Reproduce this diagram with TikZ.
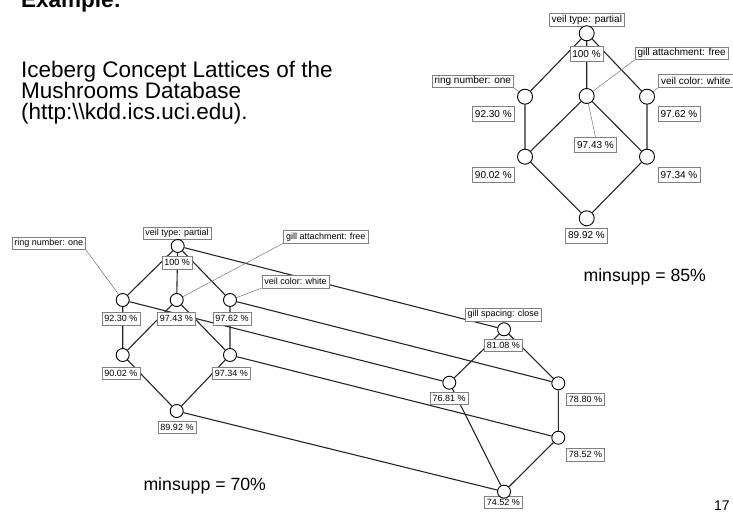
\documentclass[tikz,border=0pt]{standalone}
\usepackage{fontspec}
\setmainfont{Liberation Sans}
\pgfdeclarelayer{edges}
\pgfdeclarelayer{tags}
\pgfsetlayers{edges,tags,main}
\begin{document}
\begin{tikzpicture}[x=1pt,y=-1pt,
  concept/.style={circle,draw=black,fill=white,line width=0.9pt,minimum size=13pt,inner sep=0pt},
  conceptbig/.style={concept,minimum size=15pt},
  tag/.style={draw=black!50,fill=white,line width=0.5pt,inner xsep=2.5pt,inner ysep=0pt,
    minimum height=12.5pt,font=\fontsize{9}{10}\selectfont},
  tagbig/.style={tag,font=\fontsize{10}{11}\selectfont},
  pctbig/.style={tagbig,minimum height=15pt},
  edge/.style={line width=1.1pt,black!85},
  lead/.style={line width=0.5pt,black!55},
  slide/.style={font=\fontsize{22.5}{21.5}\selectfont,inner sep=0pt,anchor=base west},
  caption/.style={font=\fontsize{17.7}{20}\selectfont,inner sep=0pt,anchor=base west},
]
\useasboundingbox (0,0) rectangle (733,516);

% slide text
\node[slide,font=\fontsize{22.5}{21.5}\selectfont\bfseries] (title) at (21,8) {Example:};
\node[slide] (line1) at (21,77.3) {Iceberg Concept Lattices of the};
\node[slide] (line2) at (21,98.5) {Mushrooms Database};
\node[slide] (line3) at (21,119.5) {(http:\textbackslash\textbackslash kdd.ics.uci.edu).};
\node[caption] (ms85) at (583.3,281.7) {minsupp = 85\%};
\node[caption] (ms70) at (143.3,490) {minsupp = 70\%};
\node[font=\fontsize{14}{16}\selectfont,inner sep=0pt,anchor=base west] (pageno) at (714,510) {17};

% ---- lattice for minsupp = 85% ----
\node[conceptbig] (t0) at (586.7,33.3) {};
\node[conceptbig] (t1) at (525,96.7) {};
\node[conceptbig] (t2) at (586.7,96) {};
\node[conceptbig] (t3) at (647,96.7) {};
\node[conceptbig] (t4) at (525,156.7) {};
\node[conceptbig] (t5) at (647,156.7) {};
\node[conceptbig] (t6) at (586.7,218.3) {};

\begin{pgfonlayer}{tags}
\node[tagbig] (t0n) at (586.8,20) {veil type: partial};
\node[pctbig] (t0p) at (586.5,53.7) {100 \%};
\node[tagbig] (t1n) at (472.8,81.2) {ring number: one};
\node[pctbig] (t1p) at (493.3,113.8) {92.30 \%};
\node[tagbig] (t2n) at (681.7,53.3) {gill attachment: free};
\node[pctbig] (t2p) at (595.5,144.7) {97.43 \%};
\node[tagbig,anchor=west] (t3n) at (658.3,81) {veil color: white};
\node[pctbig] (t3p) at (679,113.8) {97.62 \%};
\node[pctbig] (t4p) at (493.3,174.8) {90.02 \%};
\node[pctbig] (t5p) at (679,174.8) {97.34 \%};
\node[pctbig] (t6p) at (586.5,235.5) {89.92 \%};
\end{pgfonlayer}

\begin{pgfonlayer}{edges}
\draw[edge] (t0) -- (t1) (t0) -- (t2) (t0) -- (t3)
            (t1) -- (t4) (t2) -- (t4) (t2) -- (t5) (t3) -- (t5)
            (t4) -- (t6) (t5) -- (t6);
\draw[lead] (t1n.south east) -- (t1) (t2n.south west) -- (t2)
            (t2) -- (t2p.north) (t3n.south west) -- (t3);
\end{pgfonlayer}

% ---- lattice for minsupp = 70% ----
\node[concept] (b0) at (177.7,246) {};
\node[concept] (b1) at (122.7,300) {};
\node[concept] (b2) at (176.7,300) {};
\node[concept] (b3) at (230,300) {};
\node[concept] (b4) at (122.7,355) {};
\node[concept] (b5) at (230,355) {};
\node[concept] (b6) at (176.7,411) {};
\node[concept] (r0) at (504,329.3) {};
\node[concept] (r1) at (449.3,382.7) {};
\node[concept] (r2) at (558.3,383.3) {};
\node[concept] (r3) at (558.3,437.7) {};
\node[concept] (r4) at (504,491.7) {};

\begin{pgfonlayer}{tags}
\node[tag] (b0n) at (177,233.3) {veil type: partial};
\node[tag] (b0p) at (177.2,262.7) {100 \%};
\node[tag] (b1n) at (48.7,243.3) {ring number: one};
\node[tag] (b1p) at (120.8,318.8) {92.30 \%};
\node[tag] (b2n) at (325.8,236.7) {gill attachment: free};
\node[tag] (b2p) at (176.3,318.8) {97.43 \%};
\node[tag] (b3n) at (295.5,281.7) {veil color: white};
\node[tag] (b3p) at (232,318.8) {97.62 \%};
\node[tag] (b4p) at (120.8,373) {90.02 \%};
\node[tag] (b5p) at (231.3,373) {97.34 \%};
\node[tag] (b6p) at (177,427) {89.92 \%};
\node[tag] (r0n) at (503.3,314.5) {gill spacing: close};
\node[tag] (r0p) at (503.3,345) {81.08 \%};
\node[tag] (r1p) at (449.2,398.3) {76.81 \%};
\node[tag] (r2p) at (585.5,399.2) {78.80 \%};
\node[tag] (r3p) at (585.5,454.5) {78.52 \%};
\node[tag] (r4p) at (503.3,502.2) {74.52 \%};
\end{pgfonlayer}

\begin{pgfonlayer}{edges}
\draw[edge] (b0) -- (b1) (b0) -- (b2) (b0) -- (b3)
            (b1) -- (b4) (b2) -- (b4) (b2) -- (b5) (b3) -- (b5)
            (b4) -- (b6) (b5) -- (b6);
\draw[edge] (r0) -- (r1) (r0) -- (r2) (r2) -- (r3) (r1) -- (r4) (r3) -- (r4);
\draw[edge] (b0) -- (r0) (b1) -- (r1) (b3) -- (r2) (b5) -- (r3) (b6) -- (r4);
\draw[lead] (b1n.south east) -- (b1) (b2n.south west) -- (b2) (b3n.south west) -- (b3);
\end{pgfonlayer}
\end{tikzpicture}
\end{document}
